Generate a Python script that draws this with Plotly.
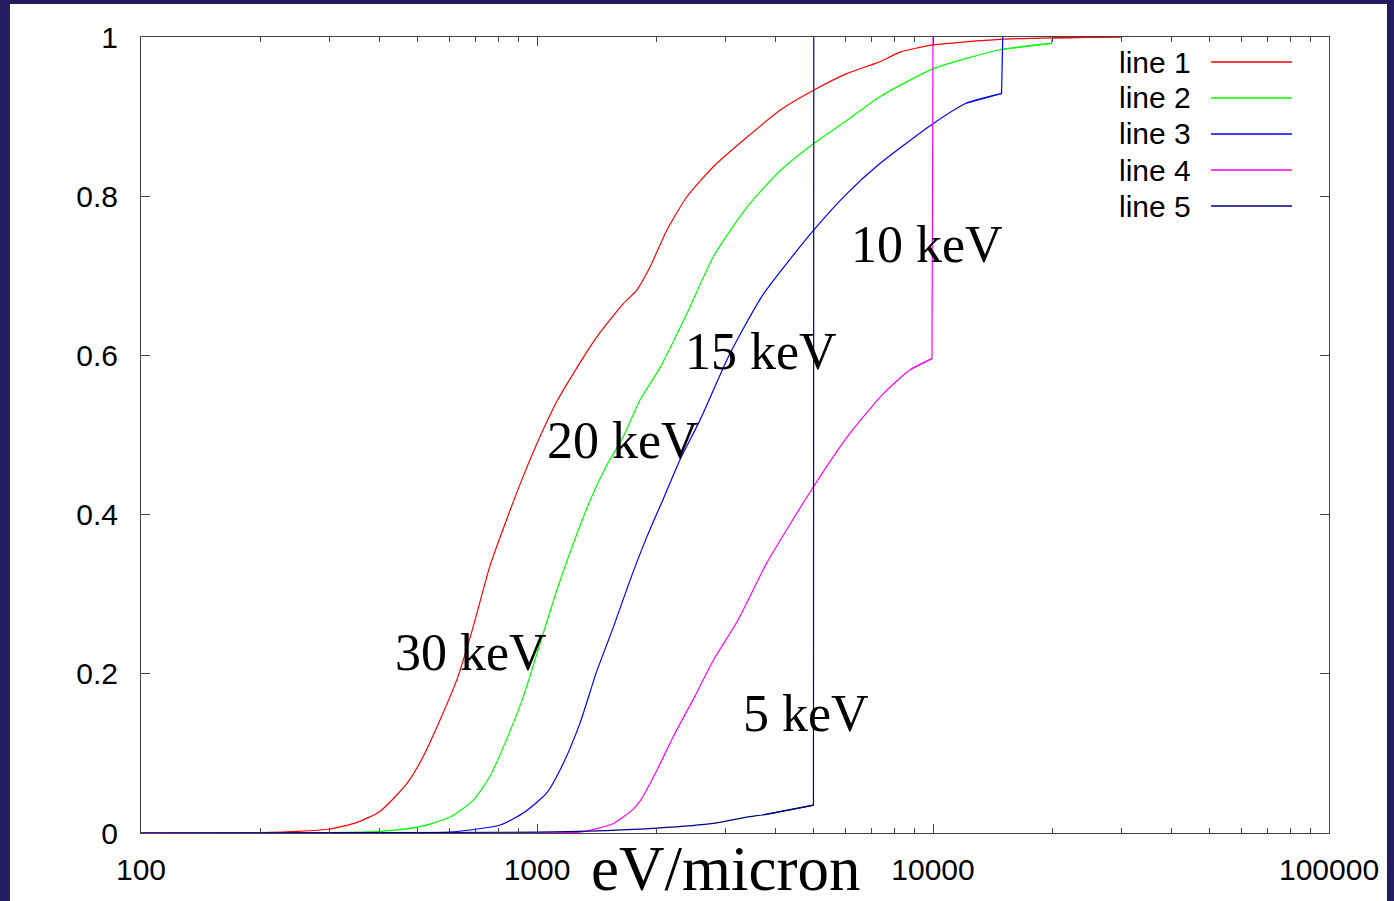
import plotly.graph_objects as go
import math

# ---- data ----
names = ["line 1", "line 2", "line 3", "line 4", "line 5"]
colors = ["#ff0000", "#00ff00", "#0000ff", "#ff00ff", "#000080"]
labels = ["30 keV", "20 keV", "15 keV", "10 keV", "5 keV"]

x1 = [100, 200, 250, 300, 350, 401, 469, 516, 569, 627, 690, 760, 837, 923, 1018, 1122, 1164,
      1415, 1652, 1786, 1929, 2126, 2388, 2788, 3387, 4110, 4990, 6053, 7343, 8260, 10000,
      14750, 20000, 30000]
y1 = [0, 0.0005, 0.002, 0.005, 0.013, 0.027, 0.062, 0.096, 0.142, 0.192, 0.259, 0.335, 0.393,
      0.448, 0.498, 0.542, 0.556, 0.623, 0.665, 0.682, 0.711, 0.757, 0.799, 0.837, 0.874,
      0.908, 0.933, 0.954, 0.969, 0.981, 0.990, 0.997, 0.999, 1.0]

x2 = [100, 300, 401, 507, 603, 690, 760, 837, 923, 1018, 1122, 1236, 1362, 1500, 1652, 1820,
      2047, 2388, 2788, 3387, 4110, 4990, 6053, 7343, 10000, 14750, 19900, 20000]
y2 = [0, 0.0005, 0.002, 0.008, 0.020, 0.041, 0.071, 0.117, 0.171, 0.238, 0.305, 0.364, 0.418,
      0.462, 0.498, 0.544, 0.585, 0.652, 0.724, 0.786, 0.832, 0.866, 0.895, 0.925, 0.960,
      0.984, 0.992, 1.0]

x3 = [100, 400, 600, 807, 923, 1057, 1164, 1284, 1415, 1560, 1719, 1894, 2085, 2297, 2582,
      3069, 3729, 4990, 6053, 7343, 10000, 12150, 14900, 15000]
y3 = [0, 0, 0.001, 0.010, 0.025, 0.050, 0.087, 0.138, 0.203, 0.259, 0.318, 0.372, 0.420,
      0.469, 0.519, 0.602, 0.677, 0.757, 0.803, 0.841, 0.891, 0.917, 0.929, 1.0]

x4 = [100, 800, 1284, 1400, 1560, 1750, 1820, 2004, 2208, 2500, 2788, 3222, 3802, 4990,
      6166, 7494, 8750, 9940, 10000]
y4 = [0, 0, 0.001, 0.005, 0.012, 0.030, 0.040, 0.078, 0.121, 0.171, 0.217, 0.268, 0.339,
      0.435, 0.502, 0.552, 0.582, 0.596, 1.0]

x5 = [100, 1000, 1500, 2004, 2788, 3387, 3750, 4990, 5000]
y5 = [0, 0.001, 0.003, 0.006, 0.012, 0.020, 0.023, 0.035, 1.0]

xs = [x1, x2, x3, x4, x5]
ys = [y1, y2, y3, y4, y5]
# number of trailing points forming the final vertical step (drawn straight)
step_pts = [1, 2, 2, 2, 2]

# label anchor points (data coords: eV/micron, fraction)
label_x = [432, 1047, 2339, 6138, 3273]
label_y = [0.227, 0.4925, 0.6055, 0.7387, 0.150]

x_tickvals = [100, 1000, 10000, 100000]
x_ticktext = ["100", "1000", "10000", "100000"]
y_tickvals = [0, 0.2, 0.4, 0.6, 0.8, 1]
y_ticktext = ["0", "0.2", "0.4", "0.6", "0.8", "1"]

fig = go.Figure()
for x, y, c, n, k in zip(xs, ys, colors, names, step_pts):
    cut = len(x) - k
    # smooth body of the cumulative curve
    fig.add_trace(go.Scatter(x=x[:cut + 1], y=y[:cut + 1], mode="lines", name=n,
                             line=dict(color=c, width=1.2, shape="spline", smoothing=0.6),
                             showlegend=False))
    # final straight step
    fig.add_trace(go.Scatter(x=x[cut - 1 + 1 - 1:] if k > 1 else x[cut - 1:],
                             y=y[cut - 1 + 1 - 1:] if k > 1 else y[cut - 1:],
                             mode="lines", name=n, line=dict(color=c, width=1.2),
                             showlegend=False))

axis_col = "#444444"
tickfont = dict(family="Liberation Sans, Arial, sans-serif", size=30, color="#000000")

fig.update_layout(
    width=1394, height=901,
    margin=dict(l=141, r=65, t=37, b=68),
    paper_bgcolor="#221b5e",
    plot_bgcolor="#ffffff",
    xaxis=dict(type="log", range=[2, 5], tickvals=x_tickvals, ticktext=x_ticktext,
               ticks="inside", ticklen=9, tickcolor=axis_col, showline=True,
               linecolor=axis_col, linewidth=1, mirror="ticks", showgrid=False,
               zeroline=False, tickfont=tickfont, ticklabelstandoff=10,
               minor=dict(ticks="inside", ticklen=5, tickcolor=axis_col,
                          dtick="D1", showgrid=False)),
    yaxis=dict(range=[0, 1], tickvals=y_tickvals, ticktext=y_ticktext,
               ticks="inside", ticklen=9, tickcolor=axis_col, showline=True,
               linecolor=axis_col, linewidth=1, mirror="ticks", showgrid=False,
               zeroline=False, tickfont=tickfont, ticklabelstandoff=16),
)

# white slide panel behind the plot
fig.add_shape(type="rect", xref="paper", yref="paper",
              x0=-0.1103, x1=1.0488, y0=-0.09, y1=1.0415,
              fillcolor="#ffffff", line=dict(width=0), layer="below")

serif = dict(family="Liberation Serif, Times New Roman, serif", size=52, color="#000000")
for lx, ly, t in zip(label_x, label_y, labels):
    fig.add_annotation(x=math.log10(lx), y=ly, xref="x", yref="y", text=t,
                       showarrow=False, xanchor="left", yanchor="middle", font=serif)

fig.add_annotation(x=0.4916, y=-0.0455, xref="paper", yref="paper", text="eV/micron",
                   showarrow=False, xanchor="center", yanchor="middle",
                   font=dict(family="Liberation Serif, Times New Roman, serif", size=63,
                             color="#000000"))

# legend (gnuplot style: text then sample)
leg_py = [62, 98, 134, 170, 206]
for i, (n, c) in enumerate(zip(names, colors)):
    yy = (833 - leg_py[i]) / 796
    fig.add_annotation(x=0.8215, y=yy, xref="paper", yref="paper", text=n, showarrow=False,
                       xanchor="left", yanchor="middle", font=tickfont)
    fig.add_shape(type="line", xref="paper", yref="paper", x0=0.9007, x1=0.9689,
                  y0=yy, y1=yy, line=dict(color=c, width=1.3))

fig.write_html("out.html")
